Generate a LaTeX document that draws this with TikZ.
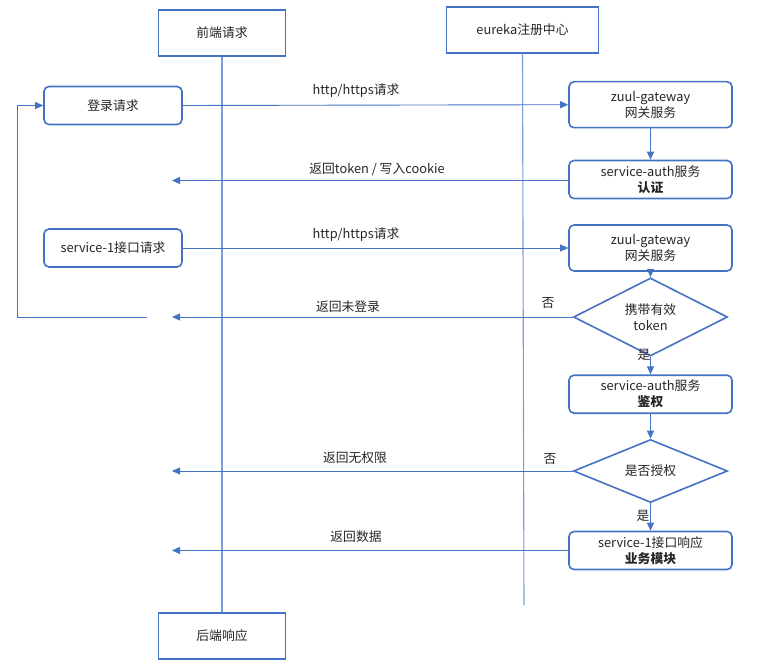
\documentclass[tikz,border=0pt]{standalone}
\usepackage{fontspec}
\setmainfont{Noto Sans CJK SC}
\usetikzlibrary{shapes.geometric,arrows.meta}
\definecolor{bl}{HTML}{4472C4}
\definecolor{ll}{HTML}{7A9CD8}
\definecolor{tx}{HTML}{262626}
\begin{document}
\begin{tikzpicture}[x=1pt,y=-1pt,
  font=\fontsize{12.8}{16}\selectfont, text=tx,
  headbox/.style={draw=bl,line width=1.6pt,fill=white,minimum width=127pt,minimum height=46pt,inner sep=0pt},
  rbox/.style={draw=bl,line width=1.6pt,fill=white,rounded corners=5pt,minimum width=138pt,minimum height=38pt,inner sep=0pt,align=center},
  wbox/.style={rbox,minimum width=163pt},
  dia/.style={diamond,draw=bl,line width=1.6pt,fill=white,minimum width=154pt,minimum height=53pt,inner sep=0pt,align=center},
  life/.style={draw=ll,line width=1.1pt},
  arr/.style={draw=bl,line width=0.9pt,-{Triangle[length=8pt,width=7pt]}},
  lbl/.style={inner sep=0pt}
]
\path[use as bounding box] (0,0) rectangle (780,669);

% lifelines
\node[headbox] (front) at (222,33) {前端请求};
\node[headbox] (back) at (222,636) {后端响应};
\node[headbox,minimum width=152pt] (eureka) at (522.5,30) {eureka注册中心};
\coordinate (eend) at (524,605);
\path[life] (front.south) -- (back.north);
\path[life] (eureka.south) -- (eend);

% left boxes
\node[rbox] (login) at (113,105.5) {登录请求};
\node[rbox] (svc) at (113,248) {service-1接口请求};

% right boxes
\node[wbox,minimum height=46pt] (gw1) at (650.5,104.7) {zuul-gateway\\网关服务};
\node[wbox] (auth1) at (650.5,179.5) {service-auth服务\\\textbf{认证}};
\node[wbox,minimum height=46pt] (gw2) at (650.5,248) {zuul-gateway\\网关服务};
\node[dia] (d1) at (650.5,317) {携带有效\\token};
\node[wbox] (auth2) at (650.5,394.2) {service-auth服务\\\textbf{鉴权}};
\node[dia,minimum height=52pt] (d2) at (650.5,471) {是否授权};
\node[wbox] (biz) at (650.5,550.5) {service-1接口响应\\\textbf{业务模块}};

% free ends
\coordinate (r1) at (172,180.5);
\coordinate (r2) at (172,317);
\coordinate (r3) at (172,471);
\coordinate (r4) at (172,550.5);
\coordinate (f0) at (147,317);
\coordinate (f1) at (17,317);
\coordinate (f2) at (17,105.5);

% connectors
\draw[arr] (login.east) -- (gw1.west);
\draw[arr] (gw1.south) -- (auth1.north);
\draw[arr] (auth1.west |- r1) -- (r1);
\draw[arr] (svc.east) -- (gw2.west);
\draw[arr] (gw2.south) -- (d1.north);
\draw[arr] (d1.west) -- (r2);
\draw[arr] (f0) -- (f1) -- (f2) -- (login.west);
\draw[arr] (d1.south) -- (auth2.north);
\draw[arr] (auth2.south) -- (d2.north);
\draw[arr] (d2.west) -- (r3);
\draw[arr] (d2.south) -- (biz.north);
\draw[arr] (biz.west) -- (r4);

% labels
\node[lbl] (l1) at (356,91) {http/https请求};
\node[lbl] (l2) at (377,169.5) {返回token / 写入cookie};
\node[lbl] (l3) at (356,234.5) {http/https请求};
\node[lbl] (l4) at (348,306.5) {返回未登录};
\node[lbl] (l5) at (548,302.5) {否};
\node[lbl] (l6) at (644,354.5) {是};
\node[lbl] (l7) at (355,457.5) {返回无权限};
\node[lbl] (l8) at (550,458.5) {否};
\node[lbl] (l9) at (643,515.5) {是};
\node[lbl] (l10) at (356,536.5) {返回数据};
\end{tikzpicture}
\end{document}
